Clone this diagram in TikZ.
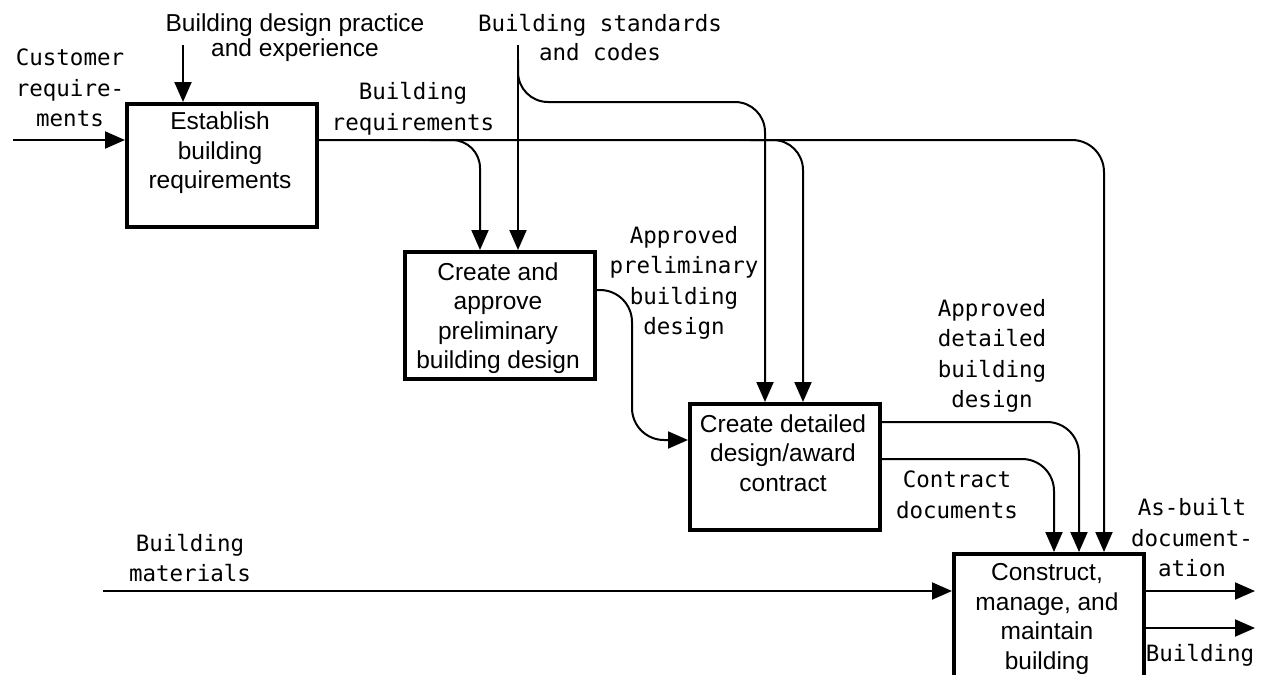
\documentclass[tikz,border=0pt]{standalone}
\usepackage{fontspec}
\setmainfont{Liberation Sans}
\newfontfamily\monofont{DejaVu Sans Mono}
\usetikzlibrary{arrows.meta}

\begin{document}
\begin{tikzpicture}[x=1pt,y=-1pt,
  proc/.style={draw, line width=4pt, inner sep=0pt, anchor=north west},
  boxtext/.style={align=center, inner sep=0pt,
    font={\fontsize{24.5pt}{29.5pt}\selectfont}},
  flowlabel/.style={align=center, inner sep=0pt,
    font={\monofont\fontsize{22.5pt}{30.5pt}\selectfont}},
  flow/.style={line width=2pt, -{Triangle[length=20pt,width=17pt]}},
]
\clip (0,0) rectangle (1275,675);
\fill[white] (0,0) rectangle (1275,675);

% activity boxes
\node[proc, minimum width=190pt, minimum height=123pt] (A) at (125,102) {};
\node[proc, minimum width=190pt, minimum height=127pt] (B) at (403,250) {};
\node[proc, minimum width=190pt, minimum height=126pt] (C) at (688,402) {};
\node[proc, minimum width=190pt, minimum height=160pt] (D) at (952,552) {};

\node[boxtext] (At) at (220,153) {Establish\\building\\requirements};
\node[boxtext] (Bt) at (498,318) {Create and\\approve\\preliminary\\building design};
\node[boxtext] (Ct) at (783,453) {Create detailed\\design/award\\contract};
\node[boxtext] (Dt) at (1047,619) {Construct,\\manage, and\\maintain\\building};

% arrow labels
\node[flowlabel] (custL) at (70,88) {Customer\\require-\\ments};
\node[boxtext, font={\fontsize{24.5pt}{25pt}\selectfont}] (pracL) at (295,38) {Building design practice\\and experience};
\node[flowlabel, font={\monofont\fontsize{22.5pt}{29pt}\selectfont}] (stdL) at (600,38) {Building standards\\and codes};
\node[flowlabel] (breqL) at (413,109) {Building\\requirements};
\node[flowlabel] (apdL) at (684,283) {Approved\\preliminary\\building\\design};
\node[flowlabel] (addL) at (992,356) {Approved\\detailed\\building\\design};
\node[flowlabel] (cdocL) at (957,495) {Contract\\documents};
\node[flowlabel] (asbL) at (1192,538) {As-built\\document-\\ation};
\node[flowlabel] (bldgL) at (1200,655) {Building};
\node[flowlabel] (matL) at (190,558) {Building\\materials};

% free ends of the boundary arrows
\coordinate (custIn) at (13,140);
\coordinate (pracIn) at (183,45);
\coordinate (stdIn) at (518,45);
\coordinate (matIn) at (103,591);
\coordinate (docOut) at (1255,591);
\coordinate (bldgOut) at (1255,628);

% inputs and controls
\draw[flow] (custIn) -- (custIn -| A.west);
\draw[flow] (pracIn) -- (pracIn |- A.north);
\draw[flow] (stdIn) -- (stdIn |- B.north);
\draw[flow] (matIn) -- (matIn -| D.west);

% building requirements and its branches
\draw[flow, rounded corners=32pt] (A.east |- 0,140) -- (1104,140) -- (D.north -| 1104,0);
\draw[flow, rounded corners=28pt] (430,140) -- (480,140) -- (B.north -| 480,0);
\draw[flow, rounded corners=30pt] (750,140) -- (803,140) -- (C.north -| 803,0);

% standards and codes branch to the detailed design
\draw[flow, rounded corners=30pt] (518,60) -- (518,102) -- (765,102) -- (C.north -| 765,0);

% approved preliminary design
\draw[flow, rounded corners=32pt] (B.east |- 0,290) -- (632,290) -- (632,440) -- (C.west |- 0,440);

% approved detailed design and contract documents
\draw[flow, rounded corners=32pt] (C.east |- 0,422) -- (1079,422) -- (D.north -| 1079,0);
\draw[flow, rounded corners=32pt] (C.east |- 0,459) -- (1054,459) -- (D.north -| 1054,0);

% outputs
\draw[flow] (D.east |- docOut) -- (docOut);
\draw[flow] (D.east |- bldgOut) -- (bldgOut);
\end{tikzpicture}
\end{document}
